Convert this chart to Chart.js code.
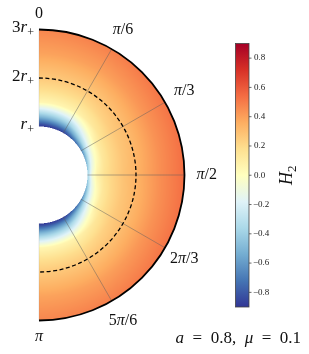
<!DOCTYPE html>
<html>
<head>
<meta charset="utf-8">
<script src="https://cdn.jsdelivr.net/npm/chart.js@4.4.1/dist/chart.umd.min.js"></script>
<style>
  html, body { margin: 0; padding: 0; background: #fff; }
  canvas { display: block; }
</style>
</head>
<body>
<canvas id="chart" width="309" height="354"></canvas>
<script>
// radial samples (in units of r+) and polar angles (degrees, 0 = top)
const radii = [1, 1.05, 1.1, 1.2, 1.35, 1.5, 1.75, 2, 2.5, 3];
const angles = [0, 30, 60, 90, 120, 150, 180];
// H2, one row per angle
const h2Values = [
    [-0.90, -0.82, -0.72, -0.50, -0.22, 0.05, 0.18, 0.26, 0.39, 0.47],
    [-0.88, -0.78, -0.65, -0.42, -0.15, 0.07, 0.19, 0.27, 0.40, 0.49],
    [-0.68, -0.48, -0.30, -0.08, 0.10, 0.18, 0.26, 0.31, 0.43, 0.52],
    [-0.38, -0.20, -0.05, 0.08, 0.17, 0.22, 0.29, 0.34, 0.45, 0.54],
    [-0.68, -0.48, -0.30, -0.08, 0.10, 0.18, 0.26, 0.31, 0.43, 0.52],
    [-0.88, -0.78, -0.65, -0.42, -0.15, 0.07, 0.19, 0.27, 0.40, 0.49],
    [-0.90, -0.82, -0.72, -0.50, -0.22, 0.05, 0.18, 0.26, 0.39, 0.47]
];
const gridAngles = [30, 60, 90, 120, 150];
const angleLabels = ['0', 'π/6', 'π/3', 'π/2', '2π/3', '5π/6', 'π'];
const angleLabelPos = [0, 30, 60, 90, 120, 150, 180];
const radialTicks = [1, 2, 3];
const radialLabels = ['', '2', '3'];
const cbarTicks = [-0.8, -0.6, -0.4, -0.2, 0, 0.2, 0.4, 0.6, 0.8];
const vmin = -0.9, vmax = 0.9;
const cmapColors = ['#313695', '#4575b4', '#74add1', '#abd9e9', '#e0f3f8', '#ffffbf',
                    '#fee090', '#fdae61', '#f46d43', '#d73027', '#a50026'];

const serif = '"Liberation Serif", "DejaVu Serif", serif';
const cmapRgb = cmapColors.map(c => [1, 3, 5].map(i => parseInt(c.substr(i, 2), 16)));

function cmap(v) {
    let t = (v - vmin) / (vmax - vmin);
    t = Math.max(0, Math.min(1, t)) * (cmapRgb.length - 1);
    const i = Math.min(Math.floor(t), cmapRgb.length - 2);
    const f = t - i;
    return cmapRgb[i].map((c, k) => Math.round(c + (cmapRgb[i + 1][k] - c) * f));
}

function findIdx(arr, v) {
    let i = 0;
    while (i < arr.length - 2 && v > arr[i + 1]) i++;
    const f = Math.max(0, Math.min(1, (v - arr[i]) / (arr[i + 1] - arr[i])));
    return [i, f];
}

function h2At(r, deg) {
    const [i, fr] = findIdx(radii, r);
    const [j, fa] = findIdx(angles, deg);
    const a = h2Values[j][i] * (1 - fr) + h2Values[j][i + 1] * fr;
    const b = h2Values[j + 1][i] * (1 - fr) + h2Values[j + 1][i + 1] * fr;
    return a * (1 - fa) + b * fa;
}

// draw a mixed roman / italic string; parts: [text, style] with style 'r', 'i' or 'sub'
function drawMath(ctx, parts, x, y, size, align) {
    const fontFor = s => s === 'i' ? `italic ${size}px ${serif}`
        : s === 'sub' ? `${Math.round(size * 0.72)}px ${serif}` : `${size}px ${serif}`;
    let w = 0;
    parts.forEach(p => { ctx.font = fontFor(p[1]); w += ctx.measureText(p[0]).width; });
    let cx = align === 'right' ? x - w : align === 'center' ? x - w / 2 : x;
    ctx.textBaseline = 'middle';
    ctx.textAlign = 'left';
    parts.forEach(p => {
        ctx.font = fontFor(p[1]);
        ctx.fillText(p[0], cx, p[1] === 'sub' ? y + size * 0.3 : y);
        cx += ctx.measureText(p[0]).width;
    });
}

function polarToPixel(chart, r, deg) {
    const t = deg * Math.PI / 180;
    return [chart.scales.x.getPixelForValue(r * Math.sin(t)),
            chart.scales.y.getPixelForValue(r * Math.cos(t))];
}

const fieldPlugin = {
    id: 'field',
    beforeDatasetsDraw(chart) {
        const ctx = chart.ctx;
        const xs = chart.scales.x, ys = chart.scales.y;
        const area = chart.chartArea;
        const x0 = Math.floor(area.left) - 1, y0 = Math.floor(area.top) - 1;
        const w = Math.ceil(area.right) - x0 + 2, h = Math.ceil(area.bottom) - y0 + 2;
        const img = ctx.createImageData(w, h);
        const sub = [0.25, 0.75];
        for (let py = 0; py < h; py++) {
            for (let px = 0; px < w; px++) {
                let hits = 0, rs = 0, as = 0;
                sub.forEach(sy => sub.forEach(sx => {
                    const dx = xs.getValueForPixel(x0 + px + sx);
                    const dy = ys.getValueForPixel(y0 + py + sy);
                    const r = Math.hypot(dx, dy);
                    if (dx >= 0 && r >= radii[0] && r <= radii[radii.length - 1]) {
                        hits++; rs += r; as += Math.atan2(dx, dy) * 180 / Math.PI;
                    }
                }));
                if (!hits) continue;
                const c = cmap(h2At(rs / hits, as / hits));
                const k = (py * w + px) * 4;
                img.data[k] = c[0]; img.data[k + 1] = c[1]; img.data[k + 2] = c[2];
                img.data[k + 3] = Math.round(255 * hits / 4);
            }
        }
        const off = document.createElement('canvas');
        off.width = w; off.height = h;
        off.getContext('2d').putImageData(img, 0, 0);
        ctx.drawImage(off, x0, y0);

        const [cx, cy] = polarToPixel(chart, 0, 0);
        const unit = xs.getPixelForValue(1) - cx;

        // angular grid lines
        ctx.save();
        ctx.strokeStyle = 'rgba(95,95,95,0.6)';
        ctx.lineWidth = 0.8;
        gridAngles.forEach(a => {
            const p1 = polarToPixel(chart, radii[0], a);
            const p2 = polarToPixel(chart, radii[radii.length - 1], a);
            ctx.beginPath(); ctx.moveTo(p1[0], p1[1]); ctx.lineTo(p2[0], p2[1]); ctx.stroke();
        });
        ctx.strokeStyle = 'rgba(120,120,120,0.3)';
        ctx.lineWidth = 0.6;
        [0, 180].forEach(a => {
            const p1 = polarToPixel(chart, radii[0], a);
            const p2 = polarToPixel(chart, radii[radii.length - 1], a);
            ctx.beginPath(); ctx.moveTo(p1[0], p1[1]); ctx.lineTo(p2[0], p2[1]); ctx.stroke();
        });

        // dashed circle at 2 r+
        ctx.strokeStyle = '#000';
        ctx.lineWidth = 1.3;
        ctx.setLineDash([4, 2.5]);
        ctx.beginPath(); ctx.arc(cx, cy, 2 * unit, -Math.PI / 2, Math.PI / 2); ctx.stroke();
        ctx.setLineDash([]);

        // outer boundary
        ctx.lineWidth = 1.8;
        ctx.beginPath(); ctx.arc(cx, cy, 3 * unit, -Math.PI / 2, Math.PI / 2); ctx.stroke();

        // labels
        ctx.fillStyle = '#111';
        angleLabels.forEach((lab, i) => {
            const a = angleLabelPos[i];
            const rr = (a === 0 || a === 180) ? 3.33 : 3.46;
            const p = polarToPixel(chart, rr, a);
            const parts = [];
            lab.split('').forEach(ch => parts.push([ch, ch === 'π' ? 'i' : 'r']));
            drawMath(ctx, parts, p[0], p[1], 16, 'center');
        });
        radialTicks.forEach((r, i) => {
            const p = polarToPixel(chart, r, 0);
            const parts = [];
            if (radialLabels[i]) parts.push([radialLabels[i], 'r']);
            parts.push(['r', 'i'], ['+', 'sub']);
            drawMath(ctx, parts, p[0] - 5, p[1] - 1.5, 17, 'right');
        });

        drawMath(ctx, [['a', 'i'], ['\u2002=\u20020.8,\u2002', 'r'], ['μ', 'i'], ['\u2002=\u20020.1', 'r']],
                 301, 339, 17, 'right');
        ctx.restore();
    },
    afterDraw(chart) {
        // colorbar
        const ctx = chart.ctx;
        const left = 235.5, right = 249, top = 43.5, bottom = 307;
        const yOf = v => bottom - (v - vmin) / (vmax - vmin) * (bottom - top);
        ctx.save();
        const grad = ctx.createLinearGradient(0, bottom, 0, top);
        cmapColors.forEach((c, i) => grad.addColorStop(i / (cmapColors.length - 1), c));
        ctx.fillStyle = grad;
        ctx.fillRect(left, top, right - left, bottom - top);
        ctx.strokeStyle = '#444';
        ctx.lineWidth = 0.8;
        ctx.strokeRect(left, top, right - left, bottom - top);
        ctx.fillStyle = '#222';
        ctx.font = `9px ${serif}`;
        ctx.textBaseline = 'middle';
        ctx.textAlign = 'left';
        cbarTicks.forEach(v => {
            const y = yOf(v);
            ctx.beginPath(); ctx.moveTo(right, y); ctx.lineTo(right + 2.5, y); ctx.stroke();
            const s = v < 0 ? '\u2212' + Math.abs(v).toFixed(1) : v.toFixed(1);
            ctx.fillText(s, right + (v < 0 ? 4 : 5), y);
        });
        ctx.translate(287, (top + bottom) / 2);
        ctx.rotate(-Math.PI / 2);
        ctx.fillStyle = '#111';
        drawMath(ctx, [['H', 'i'], ['2', 'sub']], 0, 0, 18, 'center');
        ctx.restore();
    }
};

const chart = new Chart(document.getElementById('chart').getContext('2d'), {
    type: 'scatter',
    data: { datasets: [{ data: [] }] },
    options: {
        responsive: false,
        animation: false,
        layout: { padding: { left: 39, right: 124.5, top: 29.5, bottom: 33.5 } },
        plugins: { legend: { display: false }, tooltip: { enabled: false } },
        scales: {
            x: { type: 'linear', min: 0, max: 3, display: false },
            y: { type: 'linear', min: -3, max: 3, display: false }
        }
    },
    plugins: [fieldPlugin]
});
</script>
</body>
</html>
